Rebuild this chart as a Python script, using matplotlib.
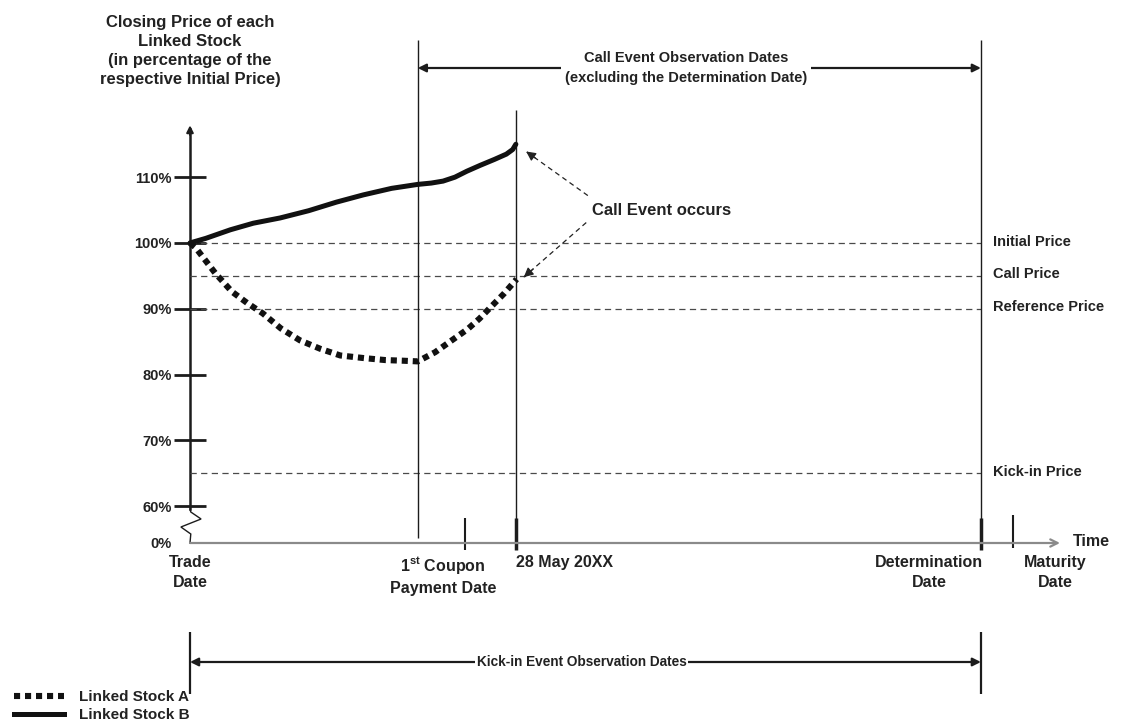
import numpy as np
import matplotlib
matplotlib.use("Agg")
import matplotlib.pyplot as plt
from matplotlib.lines import Line2D

plt.rcParams['font.family'] = ['Liberation Sans', 'DejaVu Sans']
plt.rcParams['mathtext.fontset'] = 'custom'
plt.rcParams['mathtext.rm'] = 'Liberation Sans'
plt.rcParams['mathtext.bf'] = 'Liberation Sans:bold'

# ---------------- data ----------------
# time axis: Trade Date = 0, Determination Date = 100 (arbitrary units)
stock_a_t = [0, 0.7, 3.2, 5.3, 7.2, 9.2, 11.5, 13.9, 16.5, 19.0, 22.0, 24.7, 27.0, 28.8,
             31.0, 33.1, 35.1, 36.6, 37.9, 39.7, 41.3]
stock_a_y = [100, 99.3, 95.4, 92.6, 90.9, 89.3, 87.0, 85.2, 83.9, 82.9, 82.5, 82.2, 82.1, 82.0,
             83.4, 85.2, 86.9, 88.5, 90.1, 92.3, 94.5]
stock_b_t = [0, 2.0, 5.1, 8.0, 11.4, 15.0, 18.5, 21.9, 25.5, 28.8, 30.5, 32.0, 33.5, 35.0,
             36.7, 38.5, 40.0, 40.8, 41.2]
stock_b_y = [100, 100.7, 102.0, 103.0, 103.8, 104.9, 106.2, 107.3, 108.3, 108.9, 109.1, 109.4,
             110.0, 110.9, 111.8, 112.7, 113.5, 114.2, 115.0]

ytick_vals = [54.4, 60, 70, 80, 90, 100, 110]
ytick_labels = ["0%", "60%", "70%", "80%", "90%", "100%", "110%"]

price_levels = [100, 95, 90, 65]
price_names = ["Initial Price", "Call Price", "Reference Price", "Kick-in Price"]

trade_date = 0
coupon_line = 28.8
coupon_pay = 34.8
may28 = 41.2
determination = 100
maturity = 104.0
axis_end = 110

date_labels = ["Trade\nDate", "1$^{\\mathbf{st}}$ Coupon\nPayment Date", "28 May 20XX",
               "Determination\nDate", "Maturity\nDate"]

# ---------------- figure ----------------
W, H = 1125, 727
fig = plt.figure(figsize=(W / 100, H / 100), dpi=100)
# axes region in pixels: x 190..1060, y 125..543
ax = fig.add_axes([190 / W, (H - 543) / H, 870 / W, 418 / H])
ax.set_xlim(0, axis_end)
ax.set_ylim(54.4, 54.4 + 418 / 6.58)
for s in ax.spines.values():
    s.set_visible(False)

TXT = '#222222'
LN = '#1c1c1c'
ppy = 6.58   # pixels per %

def ypx(dy_px):
    return dy_px / ppy

# y ticks
ax.set_yticks(ytick_vals)
ax.set_yticklabels(ytick_labels, fontsize=10.5, fontweight='bold', color=TXT)
ax.tick_params(axis='y', direction='inout', length=23, width=2.0, color=LN, pad=1.5)
ax.yaxis.get_major_ticks()[0].tick1line.set_visible(False)
ax.set_xticks([])

# y axis with break
base = 54.4
zz_x = [0, 0.1, -1.15, 1.4, 0.1, 0]
zz_y = [base, base + ypx(9), base + ypx(16), base + ypx(24), base + ypx(31), base + ypx(34)]
ax.plot(zz_x, zz_y, color=LN, lw=1.0, clip_on=False, solid_joinstyle='miter')
ax.plot([0, 0], [base + ypx(34), 117.3], color=LN, lw=1.8, clip_on=False)
ax.annotate('', xy=(0, 118.3), xytext=(0, 116.0),
            arrowprops=dict(arrowstyle='-|>', color=LN, lw=1.5, mutation_scale=10),
            annotation_clip=False)

# x axis
ax.annotate('', xy=(axis_end, base), xytext=(0, base),
            arrowprops=dict(arrowstyle='->', color='#8a8a8a', lw=1.6, mutation_scale=13,
                            shrinkA=0, shrinkB=0),
            annotation_clip=False)
ax.annotate('Time', xy=(axis_end, base), xytext=(9, 1), textcoords='offset points',
            ha='left', va='center', fontsize=11.5, fontweight='bold', color=TXT)

# dashed price levels
ax.hlines(price_levels, 0, determination, colors='#4a4a4a', lw=0.9,
          linestyles=(0, (5, 3.5)))
for lvl, name in zip(price_levels, price_names):
    ax.annotate(name, xy=(determination, lvl), xytext=(9, 1), textcoords='offset points',
                ha='left', va='center', fontsize=10.5, fontweight='bold', color=TXT)

# vertical date lines
top_y = base + ypx(543 - 40)
ax.vlines([coupon_line], base + ypx(5), top_y, colors=LN, lw=1.0, clip_on=False)
ax.vlines([may28], base - ypx(2), base + ypx(543 - 110), colors=LN, lw=1.0, clip_on=False)
ax.vlines([determination], base - ypx(2), top_y, colors=LN, lw=1.0, clip_on=False)

# x tick marks
ax.vlines([coupon_pay], base - ypx(7), base + ypx(25), colors=LN, lw=1.5, clip_on=False)
ax.vlines([may28], base - ypx(7), base + ypx(25), colors=LN, lw=2.5, clip_on=False)
ax.vlines([determination], base - ypx(7), base + ypx(25), colors=LN, lw=2.5, clip_on=False)
ax.vlines([maturity], base - ypx(5), base + ypx(28), colors=LN, lw=1.5, clip_on=False)

# x date labels
lab_pos = [trade_date, coupon_pay, may28, determination, maturity]
lab_ha = ['center', 'center', 'left', 'right', 'left']
lab_dx = [0, -16, 0, 1.5, 8.5]
for t, lab, ha, dx in zip(lab_pos, date_labels, lab_ha, lab_dx):
    ax.annotate(lab, xy=(t, base), xytext=(dx, -9), textcoords='offset points',
                ha=ha, va='top', multialignment='center', fontsize=11.5, fontweight='bold',
                color=TXT, linespacing=1.38, annotation_clip=False)

# curves
line_a, = ax.plot(stock_a_t, stock_a_y, color='#111111', lw=4.4,
                  linestyle=(0, (1.0, 0.8)), dash_capstyle='butt', clip_on=False)
line_b, = ax.plot(stock_b_t, stock_b_y, color='#111111', lw=3.6, solid_capstyle='round',
                  solid_joinstyle='round', clip_on=False)

# Call event annotation
ax.text(50.8, 104.9, 'Call Event occurs', ha='left', va='center', fontsize=12,
        fontweight='bold', color=TXT)
for (sx, sy), (ex, ey) in [((50.3, 107.2), (42.5, 113.9)), ((50.1, 103.1), (42.2, 94.8))]:
    ax.plot([sx, ex], [sy, ey], color='#222222', lw=0.9, linestyle=(0, (4, 3)))
    vx, vy = ex - sx, ey - sy
    ax.annotate('', xy=(ex, ey), xytext=(ex - 0.15 * vx, ey - 0.15 * vy),
                arrowprops=dict(arrowstyle='-|>', color='#222222', lw=0.9,
                                mutation_scale=14, shrinkA=0, shrinkB=0))

# top bracket: Call Event Observation Dates
bar_y = base + ypx(543 - 68)
ax.annotate('', xy=(coupon_line, bar_y), xytext=(determination, bar_y),
            arrowprops=dict(arrowstyle='<|-|>', color=LN, lw=1.6, mutation_scale=12,
                            shrinkA=0, shrinkB=0), annotation_clip=False)
ax.text(62.7, bar_y, 'Call Event Observation Dates\n(excluding the Determination Date)',
        ha='center', va='center', fontsize=10.5, fontweight='bold', color=TXT,
        linespacing=1.6, bbox=dict(facecolor='white', edgecolor='none', pad=3),
        clip_on=False)

# bottom bracket: Kick-in Event Observation Dates
kb_y = base - ypx(662 - 543)
ax.annotate('', xy=(trade_date, kb_y), xytext=(determination, kb_y),
            arrowprops=dict(arrowstyle='<|-|>', color=LN, lw=1.6, mutation_scale=12,
                            shrinkA=0, shrinkB=0), annotation_clip=False)
ax.vlines([trade_date, determination], kb_y - ypx(32), kb_y + ypx(30), colors=LN, lw=1.6,
          clip_on=False)
ax.text(49.5, kb_y, 'Kick-in Event Observation Dates', ha='center', va='center',
        fontsize=9.8, fontweight='bold', color=TXT,
        bbox=dict(facecolor='white', edgecolor='none', pad=1.0), clip_on=False)

# y-axis title
ax.text(0, base + ypx(543 - 15), 'Closing Price of each\nLinked Stock\n(in percentage of the\nrespective Initial Price)',
        ha='center', va='top', fontsize=12, fontweight='bold', color=TXT,
        linespacing=1.32, clip_on=False)

# legend
h_a = Line2D([], [], color='#111111', lw=4.4, linestyle=(0, (1.0, 0.8)), dash_capstyle='butt')
h_b = Line2D([], [], color='#111111', lw=3.6)
fig.legend([h_a, h_b], ['Linked Stock A', 'Linked Stock B'], loc='lower left',
           bbox_to_anchor=(0.0, -0.012), frameon=False, handlelength=3.3,
           handletextpad=1.0, labelspacing=0.25,
           prop=dict(size=11, weight='bold'), labelcolor=TXT)

fig.savefig('out.png', dpi=100)
